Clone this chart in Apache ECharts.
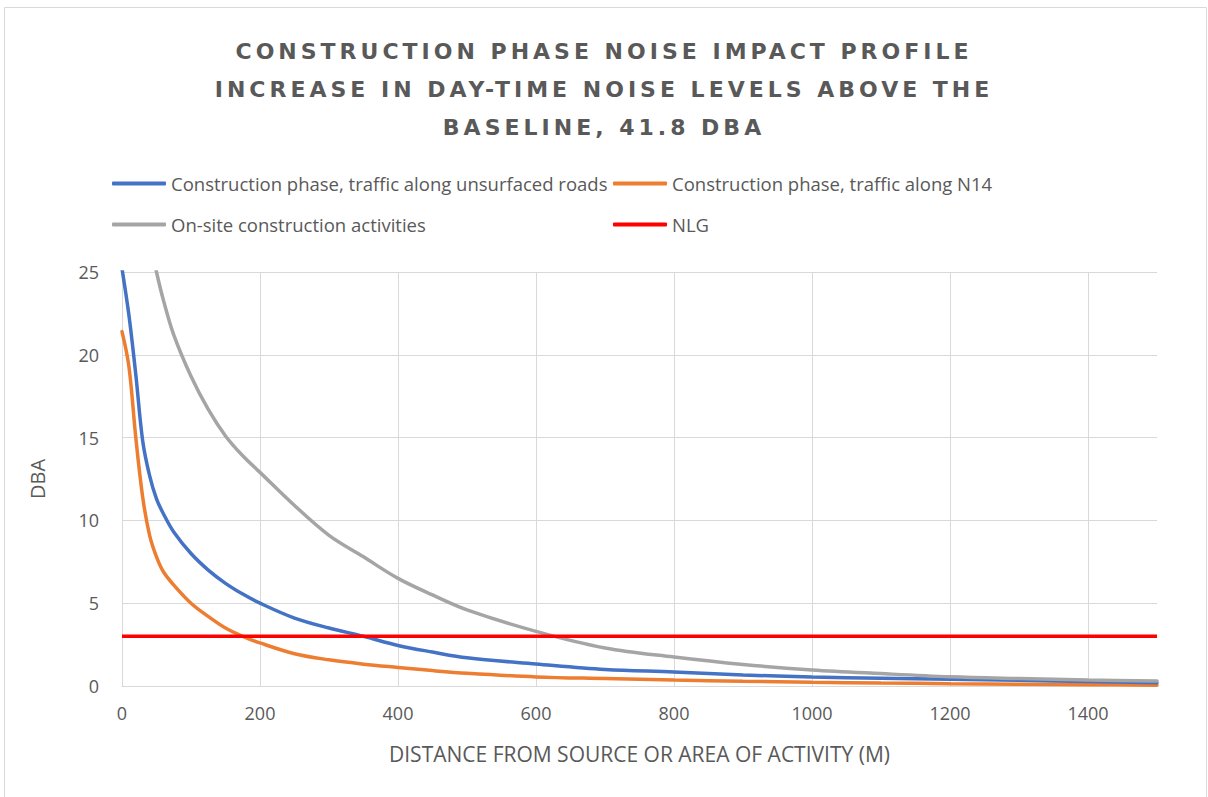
<!DOCTYPE html>
<html>
<head>
<meta charset="utf-8">
<script src="https://cdn.jsdelivr.net/npm/echarts@6/dist/echarts.min.js"></script>
<style>
  html, body { margin: 0; padding: 0; background: #fff; }
  #chart { width: 1208px; height: 797px; }
  #chart svg text[style*="bold"], #chart svg text[font-weight="bold"] { letter-spacing: 4px; }
</style>
</head>
<body>
<div id="chart"></div>
<script>
// ---- data ----
const distances = [0, 10, 20, 30, 40, 50, 60, 75, 100, 125, 150, 175, 200, 250, 300, 350, 400, 450, 500, 600, 700, 800, 900, 1000, 1100, 1200, 1300, 1400, 1500];
const unsurfacedRoads = [25.2, 22.4, 18.8, 14.8, 12.7, 11.3, 10.4, 9.3, 8.0, 7.0, 6.2, 5.55, 5.0, 4.1, 3.5, 3.0, 2.45, 2.05, 1.7, 1.33, 1.0, 0.85, 0.67, 0.54, 0.47, 0.41, 0.34, 0.27, 0.2];
const n14Traffic = [21.4, 19.3, 15.0, 11.4, 9.1, 7.8, 6.9, 6.1, 5.0, 4.2, 3.5, 3.0, 2.6, 1.95, 1.58, 1.32, 1.12, 0.93, 0.77, 0.55, 0.45, 0.36, 0.29, 0.23, 0.18, 0.14, 0.11, 0.08, 0.05];
const onSiteDistances = [10, 20, 30, 40, 50, 60, 75, 100, 125, 150, 175, 200, 250, 300, 350, 400, 450, 500, 600, 700, 800, 900, 1000, 1100, 1200, 1300, 1400, 1500];
const onSiteActivities = [38, 33, 29.5, 27, 25, 23.3, 21.2, 18.7, 16.7, 15.1, 13.9, 12.9, 10.9, 9.1, 7.8, 6.5, 5.5, 4.6, 3.3, 2.3, 1.75, 1.3, 0.97, 0.75, 0.56, 0.45, 0.36, 0.3];
const nlgDistances = [0, 1500];
const nlgValues = [3, 3];
const seriesNames = [
  'Construction phase, traffic along unsurfaced roads',
  'Construction phase, traffic along N14',
  'On-site construction activities',
  'NLG'
];
const titleLines = [
  'CONSTRUCTION PHASE NOISE IMPACT PROFILE',
  'INCREASE IN DAY-TIME NOISE LEVELS ABOVE THE',
  'BASELINE, 41.8 DBA'
];
const xAxisTitle = 'DISTANCE FROM SOURCE OR AREA OF ACTIVITY (M)';
const yAxisTitle = 'DBA';
const colors = ['#4472C4', '#ED7D31', '#A5A5A5', '#FF0000'];

const zip = (xs, ys) => xs.map((x, i) => [x, ys[i]]);

const font = '"Open Sans", "Noto Sans", sans-serif';
const textColor = '#595959';

const chart = echarts.init(document.getElementById('chart'), null, { renderer: 'svg' });

const legendCommon = {
  orient: 'vertical',
  top: 174,
  padding: 0,
  itemGap: 22,
  itemWidth: 54,
  itemHeight: 4,
  icon: 'roundRect',
  textStyle: { fontFamily: font, fontSize: 18.5, color: textColor },
  selectedMode: false
};

const seriesBase = {
  type: 'line', smooth: 0.35, showSymbol: false, clip: true
};

chart.setOption({
  animation: false,
  backgroundColor: '#fff',
  color: colors,
  graphic: [{
    type: 'rect',
    shape: { x: 4.5, y: 7.5, width: 1202, height: 800 },
    style: { fill: 'none', stroke: '#d9d9d9', lineWidth: 1 },
    silent: true
  }],
  title: {
    text: titleLines.join('\n'),
    left: 'center',
    top: 27,
    textStyle: {
      fontFamily: '"DejaVu Sans", sans-serif',
      fontWeight: 'bold',
      fontSize: 22,
      lineHeight: 38,
      color: textColor
    }
  },
  legend: [
    Object.assign({}, legendCommon, { left: 112, data: [seriesNames[0], seriesNames[2]] }),
    Object.assign({}, legendCommon, { left: 613, data: [seriesNames[1], seriesNames[3]] })
  ],
  grid: { left: 122, right: 51, top: 272, bottom: 111, containLabel: false },
  xAxis: {
    type: 'value',
    min: 0,
    max: 1500,
    interval: 200,
    name: xAxisTitle,
    nameLocation: 'middle',
    nameGap: 57,
    nameTextStyle: { fontFamily: font, fontSize: 21, color: textColor },
    axisLine: { show: true, lineStyle: { color: '#d9d9d9', width: 1 } },
    axisTick: { show: false },
    axisLabel: {
      fontFamily: font, fontSize: 18, color: textColor, margin: 18, showMaxLabel: false,
      formatter: v => String(v)
    },
    splitLine: { show: true, showMaxLine: false, lineStyle: { color: '#d9d9d9', width: 1 } }
  },
  yAxis: {
    type: 'value',
    min: 0,
    max: 25,
    interval: 5,
    name: yAxisTitle,
    nameLocation: 'middle',
    nameGap: 75,
    nameRotate: 90,
    nameTextStyle: { fontFamily: font, fontSize: 20, color: textColor },
    axisLine: { show: false },
    axisTick: { show: false },
    axisLabel: { fontFamily: font, fontSize: 18, color: textColor, margin: 23, formatter: v => String(v) },
    splitLine: { show: true, lineStyle: { color: '#d9d9d9', width: 1 } }
  },
  series: [
    Object.assign({}, seriesBase, {
      name: seriesNames[0], data: zip(distances, unsurfacedRoads),
      lineStyle: { width: 3.5, color: colors[0], cap: 'round' }, z: 3
    }),
    Object.assign({}, seriesBase, {
      name: seriesNames[1], data: zip(distances, n14Traffic),
      lineStyle: { width: 3.5, color: colors[1], cap: 'round' }, z: 2
    }),
    Object.assign({}, seriesBase, {
      name: seriesNames[2], data: zip(onSiteDistances, onSiteActivities),
      lineStyle: { width: 3.5, color: colors[2], cap: 'round' }, z: 4
    }),
    {
      name: seriesNames[3], type: 'line', data: zip(nlgDistances, nlgValues),
      showSymbol: false, clip: false,
      lineStyle: { width: 3.5, color: colors[3] }, z: 5
    }
  ]
});
</script>
</body>
</html>
